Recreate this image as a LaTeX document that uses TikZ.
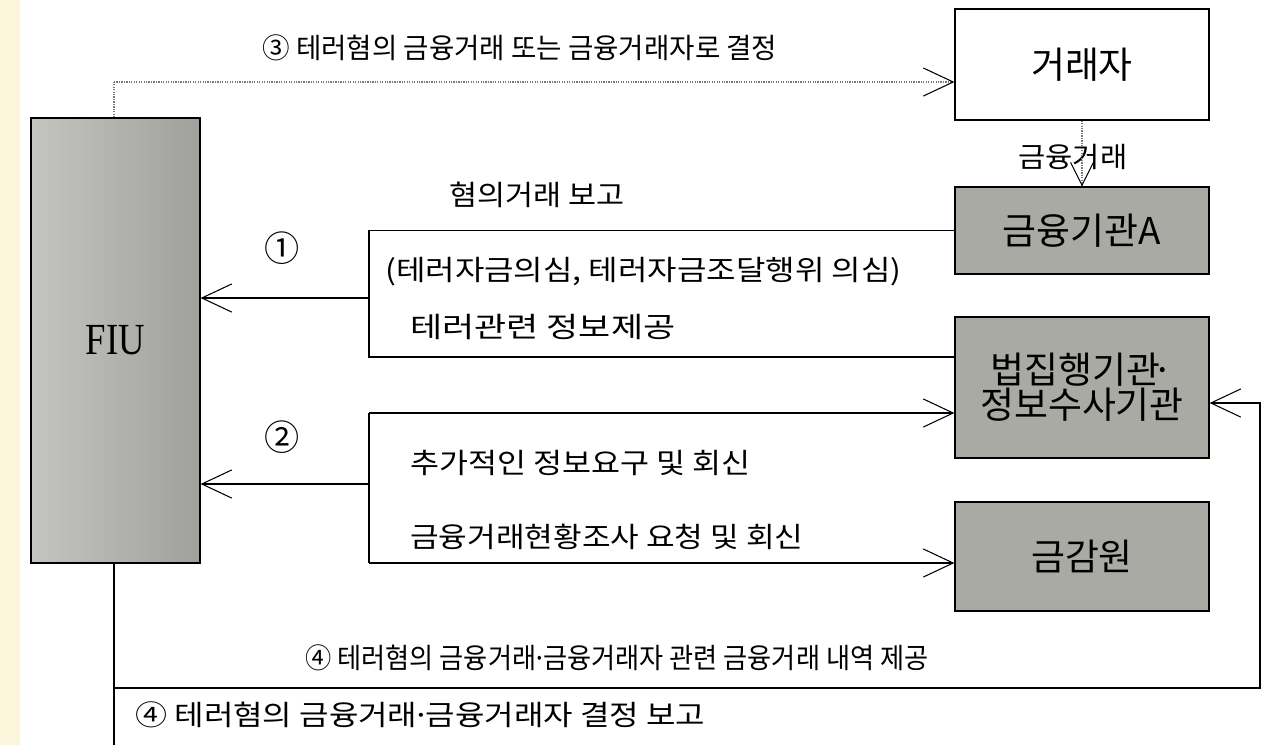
\documentclass[tikz,border=0pt]{standalone}
\usepackage{fontspec}
\usepackage{graphicx}
\setmainfont{Liberation Serif}
\newfontfamily\kr{Noto Sans CJK KR}
\usetikzlibrary{arrows.meta}
\newdimen\pxu \pxu=0.02cm
\newcommand\fw[2]{\resizebox{#1\pxu}{\height}{#2}}
\newcommand\mdot{\kern-0.15em·\kern-0.15em}
\definecolor{cream}{RGB}{251,246,220}
\definecolor{boxgray}{RGB}{170,170,165}
\definecolor{fiul}{RGB}{196,196,192}
\definecolor{fiur}{RGB}{160,160,157}
\definecolor{dotgray}{RGB}{120,120,120}
\begin{document}
\begin{tikzpicture}[x=0.02cm,y=-0.02cm,
  lbl/.style={inner sep=0pt, anchor=west, font=\kr\fontsize{16}{17}\selectfont},
  num/.style={inner sep=0pt, font=\kr\fontsize{20}{20}\selectfont},
  whitebox/.style={draw, line width=0.7pt, fill=white, inner sep=0pt, minimum width=254\pxu, font=\kr\fontsize{21}{21}\selectfont},
  graybox/.style={whitebox, fill=boxgray, align=center},
  conn/.style={line width=0.6pt},
  arr/.style={conn, -{Straight Barb[length=17pt,width=16pt,line width=0.6pt]}},
  dotline/.style={line width=0.6pt, dotgray, dash pattern=on 0.7pt off 0.7pt},
  smallarr/.style={dotline, -{Straight Barb[length=13pt,width=13pt,line width=0.6pt,color=black]}}
]
\useasboundingbox (0,0) rectangle (1274,745);
\fill[cream] (0,0) rectangle (20,745);

% nodes
\node[draw, line width=0.7pt, left color=fiul, right color=fiur, minimum width=169\pxu, minimum height=445\pxu, inner sep=0pt, font=\fontsize{22}{22}\selectfont] (fiu) at (115.5,340.5) {\scalebox{0.95}[1.15]{FIU}};
\node[whitebox, minimum height=111\pxu] (trader) at (1082,64.5) {거래자};
\node[graybox, minimum height=87\pxu] (bankA) at (1082,230.5) {금융기관A};
\node[graybox, minimum height=141\pxu, font=\kr\fontsize{21}{17}\selectfont] (law) at (1082,387.5) {법집행기관\kern-0.2em·\\정보수사기관};
\node[graybox, minimum height=109\pxu] (fss) at (1082,556.5) {금감원};

% labels
\node[lbl] (t3) at (262,48) {\fw{515}{③ 테러혐의 금융거래 또는 금융거래자로 결정}};
\node[lbl] (tfin) at (1018,157) {\fw{109}{금융거래}};
\node[lbl] (ta) at (449,195) {\fw{175}{혐의거래 보고}};
\node[num] (n1) at (282,248) {①};
\node[lbl] (tb) at (385,272) {\fw{516}{(테러자금의심, 테러자금조달행위 의심)}};
\node[lbl] (tc) at (410,327) {\fw{265}{테러관련 정보제공}};
\node[num] (n2) at (282,437) {②};
\node[lbl] (td) at (410,463) {\fw{340}{추가적인 정보요구 및 회신}};
\node[lbl] (te) at (410,537) {\fw{393}{금융거래현황조사 요청 및 회신}};
\node[lbl] (tf) at (305,658) {\fw{623}{④ 테러혐의 금융거래\mdot 금융거래자 관련 금융거래 내역 제공}};
\node[lbl] (tg) at (135,715) {\fw{570}{④ 테러혐의 금융거래\mdot 금융거래자 결정 보고}};

% coordinates
\coordinate (c3) at (114,82);
\coordinate (b1t) at (369,230.5);
\coordinate (b1m) at (369,298);
\coordinate (b1b) at (369,357);
\coordinate (b2t) at (369,413);
\coordinate (b2m) at (369,484);
\coordinate (b2b) at (369,563);
\coordinate (c4) at (114,688);
\coordinate (c4e) at (114,745);
\coordinate (r4) at (1260,688);
\coordinate (r4t) at (1260,403);

% connectors
\draw[dotline] (fiu.north -| c3) -- (c3);
\draw[smallarr, -{Straight Barb[length=17pt,width=16pt,line width=0.6pt,color=black]}] (c3) -- (c3 -| trader.west);
\draw[smallarr] (trader.south) -- (bankA.north);
\draw[conn] (bankA.west) -- (b1t) -- (b1b) -- (b1b -| law.west);
\draw[arr] (b1m) -- (b1m -| fiu.east);
\draw[arr] (b2t) -- (b2t -| law.west);
\draw[conn] (b2t) -- (b2b);
\draw[arr] (b2b) -- (b2b -| fss.west);
\draw[arr] (b2m) -- (b2m -| fiu.east);
\draw[conn] (fiu.south -| c4) -- (c4e);
\draw[arr] (c4) -- (r4) -- (r4t) -- (r4t -| law.east);
\end{tikzpicture}
\end{document}
